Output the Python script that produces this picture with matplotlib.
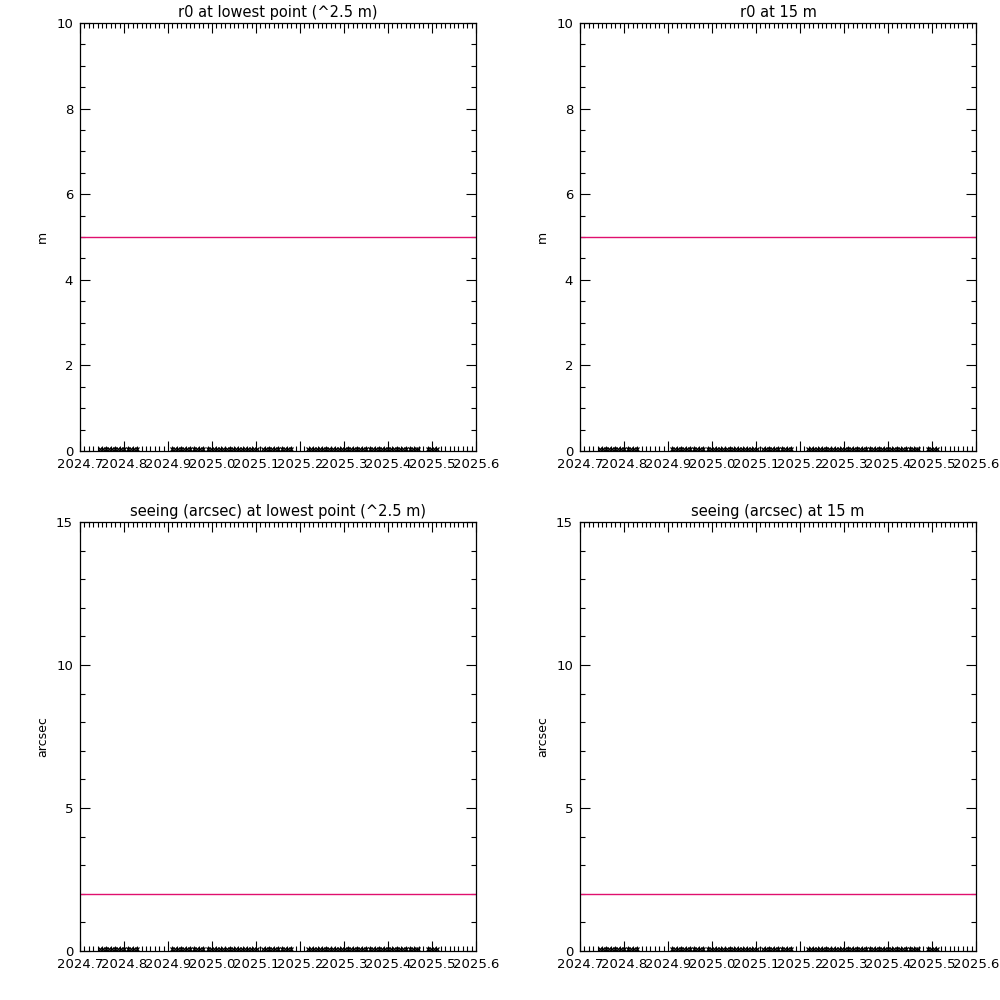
import matplotlib
matplotlib.use("Agg")
import matplotlib.pyplot as plt
from matplotlib.ticker import MultipleLocator, FormatStrFormatter

DATES = [
    2024.745, 2024.752, 2024.759, 2024.766, 2024.773, 2024.780, 2024.787,
    2024.794, 2024.801, 2024.808, 2024.815, 2024.822, 2024.829,
    2024.909, 2024.916, 2024.923, 2024.930, 2024.937, 2024.944, 2024.951,
    2024.958, 2024.965, 2024.972, 2024.979,
    2024.991, 2024.998, 2025.005, 2025.012, 2025.019, 2025.026, 2025.033,
    2025.040, 2025.047, 2025.054, 2025.061, 2025.068, 2025.075, 2025.082,
    2025.089, 2025.096, 2025.102,
    2025.116, 2025.123, 2025.130, 2025.137, 2025.144, 2025.151, 2025.158,
    2025.165, 2025.172, 2025.179,
    2025.218, 2025.225, 2025.232, 2025.239, 2025.246, 2025.253, 2025.260,
    2025.267, 2025.274, 2025.281, 2025.288, 2025.295, 2025.302, 2025.309,
    2025.316, 2025.323, 2025.330, 2025.337, 2025.344, 2025.351, 2025.358,
    2025.365, 2025.372, 2025.379, 2025.386, 2025.393, 2025.400, 2025.407,
    2025.414, 2025.421, 2025.428, 2025.435, 2025.442, 2025.449, 2025.456,
    2025.463, 2025.468,
    2025.491, 2025.498, 2025.505, 2025.512,
]

# all measured values sit on the floor of each panel
R0_LOW = [0.04] * len(DATES)
R0_15 = [0.04] * len(DATES)
SEEING_LOW = [0.06] * len(DATES)
SEEING_15 = [0.06] * len(DATES)

R0_REF = 5.0
SEEING_REF = 2.0

TITLES = [
    "r0 at lowest point (^2.5 m)",
    "r0 at 15 m",
    "seeing (arcsec) at lowest point (^2.5 m)",
    "seeing (arcsec) at 15 m",
]
YLABELS = ["m", "m", "arcsec", "arcsec"]

XMIN, XMAX = 2024.7, 2025.6
REF_COLOR = "#E0106E"
FS = 9.5


def style_axis(ax, ymax, ymajor, yminor):
    ax.set_xlim(XMIN, XMAX)
    ax.set_ylim(0, ymax)
    ax.xaxis.set_major_locator(MultipleLocator(0.1))
    ax.xaxis.set_minor_locator(MultipleLocator(0.01))
    ax.xaxis.set_major_formatter(FormatStrFormatter("%.1f"))
    ax.yaxis.set_major_locator(MultipleLocator(ymajor))
    ax.yaxis.set_minor_locator(MultipleLocator(yminor))
    ax.tick_params(which="both", direction="in", top=True, right=True,
                   labelsize=FS, width=0.8, pad=5)
    ax.tick_params(which="major", length=7.5)
    ax.tick_params(which="minor", length=3.5)
    for s in ax.spines.values():
        s.set_linewidth(0.9)


def panel(ax, values, ref, ymax, ymajor, yminor, title, ylabel):
    ax.plot(DATES, values, linestyle="none", marker="x", markersize=3.5,
            markeredgewidth=0.9, color="black", clip_on=False)
    ax.axhline(ref, color=REF_COLOR, linewidth=1.0)
    style_axis(ax, ymax, ymajor, yminor)
    ax.set_title(title, fontsize=FS + 1, pad=4)
    ax.set_ylabel(ylabel, fontsize=FS - 0.5, labelpad=5)


def main() -> None:
    fig = plt.figure(figsize=(10, 10), dpi=100)
    fig.patch.set_facecolor("white")

    positions = [
        [0.080, 0.549, 0.396, 0.428],
        [0.580, 0.549, 0.396, 0.428],
        [0.080, 0.049, 0.396, 0.429],
        [0.580, 0.049, 0.396, 0.429],
    ]
    series = [R0_LOW, R0_15, SEEING_LOW, SEEING_15]
    refs = [R0_REF, R0_REF, SEEING_REF, SEEING_REF]
    scales = [(10, 2, 0.5), (10, 2, 0.5), (15, 5, 1), (15, 5, 1)]

    for pos, vals, ref, (ymax, ymaj, ymin), title, ylab in zip(
            positions, series, refs, scales, TITLES, YLABELS):
        ax = fig.add_axes(pos)
        panel(ax, vals, ref, ymax, ymaj, ymin, title, ylab)

    fig.savefig("out.png", dpi=100, facecolor="white")
    plt.close(fig)


if __name__ == "__main__":
    main()
